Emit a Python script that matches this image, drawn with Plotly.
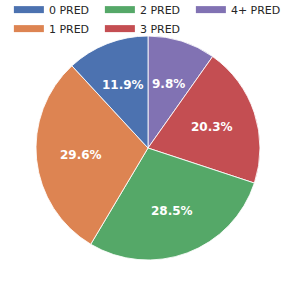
import math
import plotly.graph_objects as go

categories = ["0 PRED", "1 PRED", "2 PRED", "3 PRED", "4+ PRED"]
percentages = [11.9, 29.6, 28.5, 20.3, 9.8]
colors = ["#4c72b0", "#dd8452", "#55a868", "#c44e52", "#8172b3"]
legend_order = ["0 PRED", "2 PRED", "4+ PRED", "1 PRED", "3 PRED"]

W = H = 296
dom = [36 / W, 260 / W]
cx = cy = (dom[0] + dom[1]) / 2
R = (dom[1] - dom[0]) / 2

fig = go.Figure()
# counterclockwise from 12 o'clock == clockwise with reversed order
fig.add_trace(go.Pie(
    labels=categories[::-1], values=percentages[::-1], sort=False,
    direction="clockwise", rotation=0,
    marker=dict(colors=colors[::-1], line=dict(color="rgba(255,255,255,0.85)", width=1)),
    textinfo="none", hoverinfo="label+percent", showlegend=False,
    domain=dict(x=dom, y=dom),
))

# legend entries (column-major like the reference)
for name in legend_order:
    c = colors[categories.index(name)]
    fig.add_trace(go.Scatter(x=[None], y=[None], mode="lines", name=name,
                             line=dict(color=c, width=7), hoverinfo="skip"))

# percent labels at 0.6 radius
total = sum(percentages)
cum = 0
ann = []
for v in percentages:
    theta = math.radians(90 + 360 * (cum + v / 2) / total)
    cum += v
    ann.append(dict(x=cx + 0.6 * R * math.cos(theta), y=cy + 0.6 * R * math.sin(theta),
                    xref="paper", yref="paper", xanchor="center", yanchor="middle",
                    text=f"<b>{v:.1f}%</b>", showarrow=False,
                    font=dict(family="DejaVu Sans", size=12, color="white")))

fig.update_layout(
    width=W, height=H, margin=dict(l=0, r=0, t=0, b=0, autoexpand=False),
    paper_bgcolor="white", plot_bgcolor="white",
    xaxis=dict(visible=False), yaxis=dict(visible=False),
    annotations=ann,
    legend=dict(orientation="h", x=0.03, y=1.0165, xanchor="left", yanchor="top",
                entrywidth=46, entrywidthmode="pixels", traceorder="normal",
                font=dict(family="DejaVu Sans", size=11, color="#262626"),
                bgcolor="rgba(0,0,0,0)", itemclick=False, itemdoubleclick=False),
)
fig.write_html("out.html", config={"displayModeBar": False},
               post_script="document.body.style.margin='0';")
